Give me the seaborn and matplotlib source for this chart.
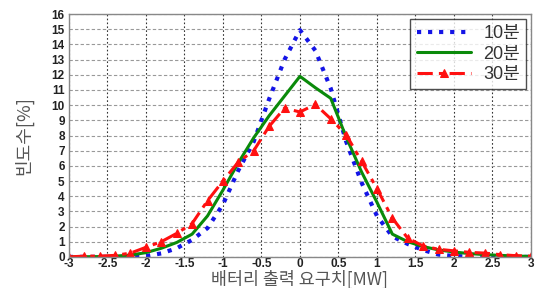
import numpy as np
import pandas as pd
import matplotlib
matplotlib.use("Agg")
import matplotlib.pyplot as plt
import seaborn as sns

# battery output demand [MW] and frequency [%] per time window
x_mw = [-3.0, -2.8, -2.6, -2.4, -2.2, -2.0, -1.8, -1.6, -1.4, -1.2, -1.0,
        -0.8, -0.6, -0.4, -0.2, 0.0, 0.2, 0.4, 0.6, 0.8, 1.0,
        1.2, 1.4, 1.6, 1.8, 2.0, 2.2, 2.4, 2.6, 2.8, 3.0]
freq_10 = [0, 0, 0, 0, 0.02, 0.06, 0.23, 0.57, 1.12, 1.9, 3.45,
           5.7, 7.6, 10.4, 13.0, 14.95, 13.6, 11.1, 7.6, 4.9, 2.7,
           1.35, 0.85, 0.45, 0.15, 0.06, 0.02, 0, 0, 0, 0]
freq_20 = [0, 0.01, 0.02, 0.05, 0.12, 0.28, 0.57, 0.95, 1.5, 2.7, 4.4,
           6.2, 7.85, 9.3, 10.6, 11.9, 11.15, 10.45, 7.9, 5.6, 3.6,
           1.5, 1.0, 0.68, 0.46, 0.32, 0.22, 0.15, 0.1, 0.06, 0.03]
freq_30 = [0, 0.05, 0.05, 0.1, 0.25, 0.63, 1.0, 1.55, 2.2, 3.7, 5.0,
           6.25, 7.0, 8.6, 9.8, 9.55, 10.05, 9.1, 8.05, 6.3, 4.5,
           2.55, 1.23, 0.72, 0.5, 0.4, 0.3, 0.25, 0.15, 0.08, 0.05]
labels = ["10분", "20분", "30분"]
x_ticks = [-3, -2.5, -2, -1.5, -1, -0.5, 0, 0.5, 1, 1.5, 2, 2.5, 3]
x_tick_labels = ["-3", "-2.5", "-2", "-1.5", "-1", "-0.5", "0", "0.5", "1", "1.5", "2", "2.5", "3"]
y_ticks = list(range(0, 17))

df = pd.DataFrame({"x": x_mw * 3,
                   "freq": freq_10 + freq_20 + freq_30,
                   "series": [labels[0]] * len(x_mw) + [labels[1]] * len(x_mw) + [labels[2]] * len(x_mw)})

sns.set_theme(style="white")
plt.rcParams["font.family"] = ["Liberation Sans", "Noto Sans CJK KR", "DejaVu Sans"]

fig = plt.figure(figsize=(5.38, 2.88), dpi=100)
ax = fig.add_axes([0.128, 0.108, 0.859, 0.843])

styles = {
    labels[0]: dict(color="#1414e6", linestyle=":", linewidth=3.0),
    labels[1]: dict(color="#0a8a0a", linestyle="-", linewidth=2.2),
    labels[2]: dict(color="#ff1010", linestyle=(0, (5, 2, 1.5, 2)), linewidth=2.2, marker="^",
                    markersize=5.5, markeredgecolor="#ff1010"),
}
for name in labels:
    sub = df[df["series"] == name]
    sns.lineplot(data=sub, x="x", y="freq", ax=ax, label=name, **styles[name])

ax.set_xlim(-3, 3)
ax.set_ylim(0, 16)
ax.set_xticks(x_ticks)
ax.set_xticklabels(x_tick_labels)
ax.set_yticks(y_ticks)
ax.tick_params(axis="both", labelsize=8.5, length=0)
ax.tick_params(axis="x", pad=1)
ax.tick_params(axis="y", pad=3)
for t in ax.get_xticklabels() + ax.get_yticklabels():
    t.set_fontweight("bold")
    t.set_color("#222222")

ax.xaxis.grid(True, linestyle=(0, (1.5, 2)), color="#333333", linewidth=0.8)
ax.yaxis.grid(True, linestyle=(0, (3, 2)), color="#999999", linewidth=0.8)
for s in ax.spines.values():
    s.set_color("#888888")
    s.set_linewidth(1.0)

ax.set_xlabel("배터리 출력 요구치[MW]", fontsize=12.5, color="#555555",
              family=["Noto Sans CJK KR", "DejaVu Sans"], va="center")
ax.xaxis.set_label_coords(0.5, -0.092)
ax.set_ylabel("빈도수[%]", fontsize=13, color="#555555",
              family=["Noto Sans CJK KR", "DejaVu Sans"], va="center")
ax.yaxis.set_label_coords(-0.097, 0.5)

leg = ax.legend(loc="upper right", handlelength=3.0, frameon=True,
                fancybox=False, borderaxespad=0.25, borderpad=0.35, labelspacing=0.2,
                handletextpad=0.7,
                prop={"family": ["Liberation Sans", "Noto Sans CJK KR"], "size": 13})
leg.get_frame().set_edgecolor("#222222")
leg.get_frame().set_linewidth(1.0)
for t in leg.get_texts():
    t.set_color("#333333")

fig.savefig("out.png", dpi=100, facecolor="white")
